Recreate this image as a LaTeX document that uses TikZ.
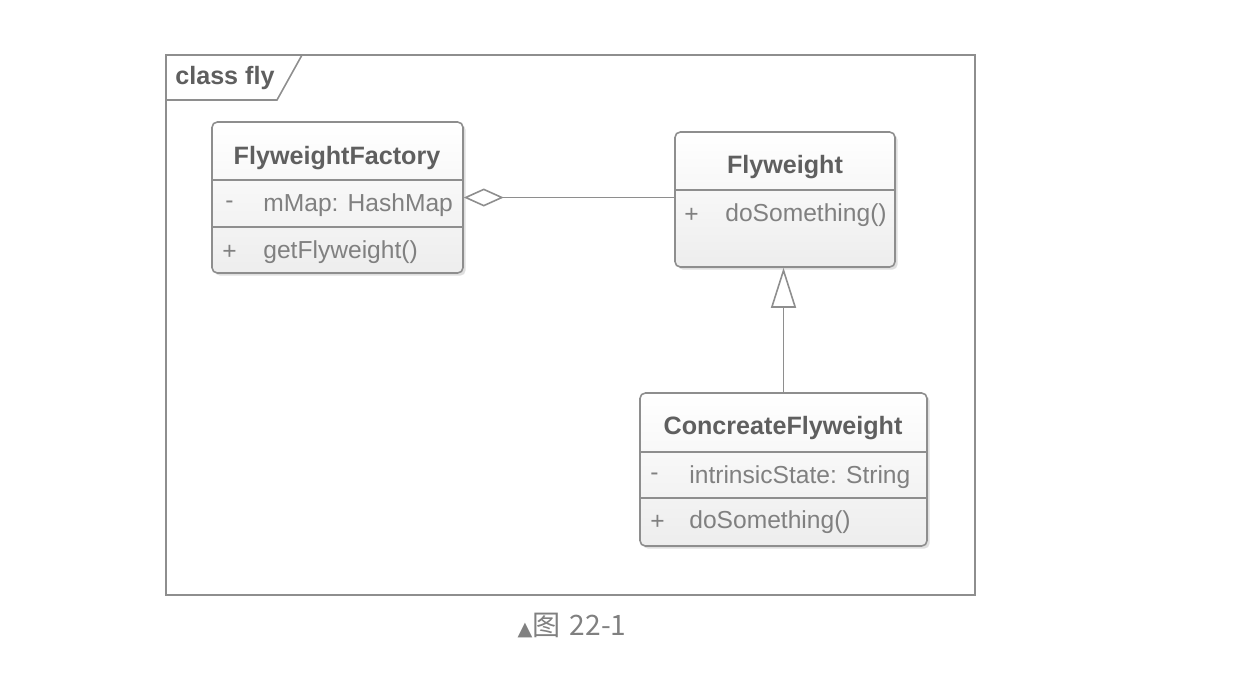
\documentclass[tikz,border=0pt]{standalone}
\usepackage{fontspec}
\setmainfont{Liberation Sans}
\newfontfamily\cjkfont{Noto Sans CJK SC}
\newfontfamily\symfont{DejaVu Sans}
\usetikzlibrary{arrows.meta,shadows,positioning}

\definecolor{umlline}{HTML}{8E8E8E}
\definecolor{umltext}{HTML}{808080}
\definecolor{umlname}{HTML}{5F5F5F}

\tikzset{
  classbox/.style={draw=umlline, line width=0.9pt, rounded corners=3pt,
    top color=white, bottom color=gray!14,
    drop shadow={shadow xshift=1.5pt, shadow yshift=-1.5pt, opacity=0.25}},
  classname/.style={font=\fontsize{14.3}{16}\selectfont\bfseries, text=umlname, inner sep=0pt},
  member/.style={font=\fontsize{14}{16}\selectfont, text=umltext, anchor=west, inner sep=0pt},
  divider/.style={draw=umlline, line width=0.9pt},
  link/.style={draw=umlline, line width=0.9pt},
  aggregation/.style={link, -{Diamond[open, length=0.8cm, width=0.36cm]}},
  generalization/.style={link, -{Triangle[open, length=0.8cm, width=0.5cm]}},
}

\begin{document}
\begin{tikzpicture}[x=0.02cm, y=-0.02cm]
  \useasboundingbox[fill=white] (0,0) rectangle (1246,680);

  % Frame {class fly}
  \draw[umlline, line width=0.9pt] (166,55) rectangle (975,595);
  \coordinate (tabL) at (166,100);
  \coordinate (tabB) at (277,100);
  \coordinate (tabT) at (302,55);
  \draw[umlline, line width=0.9pt] (tabL) -- (tabB) -- (tabT);
  \node[classname, anchor=west] (frametitle) at (175,78) {class fly};

  % Classes {fac, fw, conc}
  \node[classbox, minimum width=5.02cm, minimum height=3.02cm] (fac)  at (337.5,197.5) {};
  \node[classbox, minimum width=4.40cm, minimum height=2.70cm] (fw)   at (785,199.5) {};
  \node[classbox, minimum width=5.74cm, minimum height=3.06cm] (conc) at (783.5,469.5) {};

  % Compartments
  \draw[divider] (fac.west |- 0,180) -- (fac.east |- 0,180);
  \draw[divider] (fac.west |- 0,227) -- (fac.east |- 0,227);
  \draw[divider] (fw.west |- 0,190) -- (fw.east |- 0,190);
  \draw[divider] (conc.west |- 0,452) -- (conc.east |- 0,452);
  \draw[divider] (conc.west |- 0,498) -- (conc.east |- 0,498);

  % Names and members
  \node[classname] (facname)  at (337,158) {FlyweightFactory};
  \node[member] (facattrvis)  at (225,205) {-};
  \node[member] (facattr)     at (263,205) {mMap: HashMap};
  \node[member] (facopvis)    at (222,252) {+};
  \node[member] (facop)       at (263,252) {getFlyweight()};

  \node[classname] (fwname)   at (785,167) {Flyweight};
  \node[member] (fwopvis)     at (684,215) {+};
  \node[member] (fwop)        at (725,215) {doSomething()};

  \node[classname] (concname) at (783,428) {ConcreateFlyweight};
  \node[member] (concattrvis) at (650,477) {-};
  \node[member] (concattr)    at (689,477) {intrinsicState: String};
  \node[member] (concopvis)   at (650,522) {+};
  \node[member] (concop)      at (689,522) {doSomething()};

  % Paths
  \draw[aggregation] (fac.east -| fw.west) -- (fac.east);
  \draw[generalization] (conc.north) -- (conc.north |- fw.south);

  % Caption
  \node[text=umltext, font=\fontsize{16}{18}\selectfont] (caption) at (572,625)
    {{\symfont\fontsize{11}{12}\selectfont ▲}{\cjkfont 图\,\,22-1}};
\end{tikzpicture}
\end{document}
